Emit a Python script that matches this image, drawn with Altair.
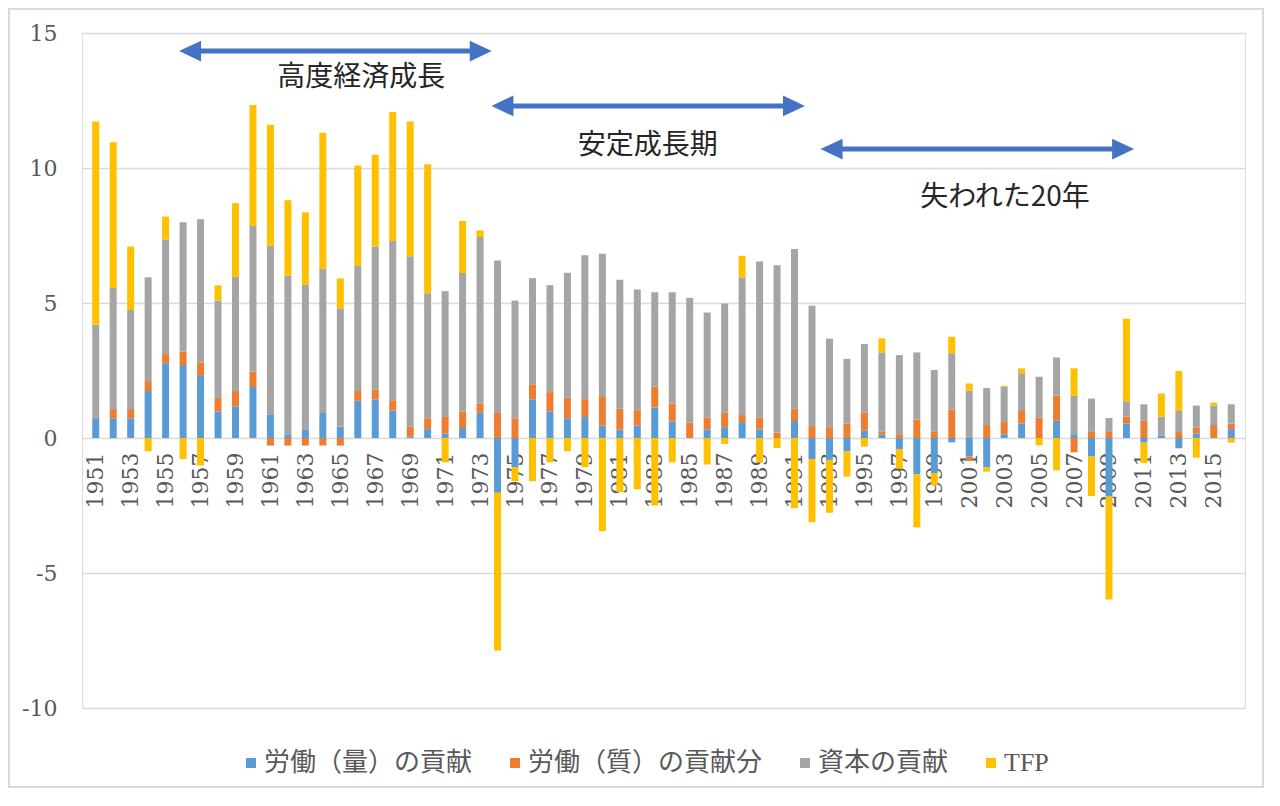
import altair as alt
import pandas as pd

years = list(range(1951, 2017))

labor_qty = [0.73, 0.73, 0.73, 1.74, 2.77, 2.70, 2.30, 0.98, 1.17, 1.89,
             0.88, 0.11, 0.31, 0.93, 0.42, 1.38, 1.43, 1.02, 0.06, 0.33,
             0.16, 0.37, 0.93, -2.03, -1.08, 1.43, 0.98, 0.73, 0.78, 0.46,
             0.31, 0.46, 1.13, 0.61, 0.00, 0.32, 0.40, 0.59, 0.32, 0.00,
             0.63, -0.78, -0.81, -0.48, 0.27, 0.12, -0.42, -1.35, -1.30, -0.16,
             -0.69, -1.09, 0.14, 0.54, 0.00, 0.64, 0.14, -0.69, -2.17, 0.54,
             -0.17, 0.10, -0.38, 0.17, 0.00, 0.33]

labor_qual = [0.00, 0.34, 0.34, 0.37, 0.34, 0.50, 0.50, 0.50, 0.57, 0.57,
              -0.28, -0.28, -0.28, -0.28, -0.28, 0.36, 0.37, 0.38, 0.36, 0.40,
              0.62, 0.61, 0.35, 0.93, 0.73, 0.56, 0.72, 0.76, 0.66, 1.09,
              0.77, 0.57, 0.77, 0.67, 0.57, 0.43, 0.55, 0.26, 0.43, 0.19,
              0.47, 0.44, 0.40, 0.54, 0.68, 0.11, 0.14, 0.68, 0.23, 1.06,
              -0.15, 0.48, 0.45, 0.46, 0.75, 0.93, -0.53, 0.25, 0.25, 0.25,
              0.64, 0.00, 0.22, 0.21, 0.48, 0.20]

capital = [3.46, 4.49, 3.67, 3.84, 4.24, 4.79, 5.30, 3.61, 4.22, 5.39,
           6.24, 5.90, 5.36, 5.34, 4.38, 4.63, 5.29, 5.90, 6.31, 4.63,
           4.66, 5.13, 6.16, 5.64, 4.36, 3.93, 3.96, 4.63, 5.33, 5.27,
           4.78, 4.47, 3.50, 4.12, 4.62, 3.90, 4.03, 5.09, 5.79, 6.21,
           5.90, 4.46, 3.28, 2.39, 2.53, 2.94, 2.93, 2.49, 2.29, 2.08,
           1.75, 1.37, 1.31, 1.40, 1.52, 1.41, 1.42, 1.21, 0.49, 0.57,
           0.61, 0.69, 0.78, 0.82, 0.72, 0.72]

tfp = [7.53, 5.39, 2.35, -0.49, 0.85, -0.78, -1.02, 0.56, 2.74, 4.48,
       4.48, 2.80, 2.69, 5.04, 1.11, 3.72, 3.40, 4.77, 4.99, 4.78,
       -0.90, 1.93, 0.25, -5.84, -0.52, -1.60, -0.90, -0.49, -1.08, -3.45,
       -2.00, -1.90, -2.50, -0.90, 0.00, -0.98, -0.22, 0.81, -0.91, -0.37,
       -2.60, -2.34, -1.96, -0.95, -0.32, 0.52, -0.72, -1.96, -0.46, 0.61,
       0.27, -0.16, 0.04, 0.18, -0.27, -1.20, 1.02, -1.46, -3.81, 3.06,
       -0.76, 0.86, 1.48, -0.73, 0.11, -0.17]

series_names = ["労働（量）の貢献", "労働（質）の貢献分", "資本の貢献", "TFP"]
series_colors = ["#5B9BD5", "#ED7D31", "#A5A5A5", "#FFC000"]

tick_years = list(range(1951, 2016, 2))
y_ticks = [-10, -5, 0, 5, 10, 15]

# annotations (periods)
ann_labels = ["高度経済成長", "安定成長期", "失われた20年"]
ann_x = [1966.2, 1982.6, 2003.05]
ann_y = [13.33, 10.81, 8.89]
arrow_x0 = [1955.78, 1973.66, 1992.50]
arrow_x1 = [1973.66, 1991.59, 2010.43]
arrow_y = [14.33, 12.30, 10.70]

rows = []
for i, yr in enumerate(years):
    for k, vals in enumerate([labor_qty, labor_qual, capital, tfp]):
        rows.append({"year": yr, "series": series_names[k], "ord": k, "value": vals[i]})
df = pd.DataFrame(rows)

ann_df = pd.DataFrame({"label": ann_labels, "x": ann_x, "y": ann_y})
HEAD = 0.62
arr_df = pd.DataFrame({
    "x0": arrow_x0, "x1": arrow_x1, "y": arrow_y,
    "hx0": [v + HEAD for v in arrow_x0],
    "hx1": [v - HEAD for v in arrow_x1],
})

W, H = 1163, 675
SERIF = "DejaVu Serif"
CJK = "Noto Sans CJK JP"
LEG_FONT = "Liberation Serif, Noto Sans CJK JP"
x_scale = alt.Scale(domain=[1950.5, 2016.5], nice=False, zero=False)
y_scale = alt.Scale(domain=[-10, 15], nice=False, zero=False)

x_axis = alt.Axis(values=tick_years, labelExpr="'' + datum.value", labelAngle=270,
                  offset=-270, labelPadding=14, ticks=False, domain=False, grid=False,
                  labelFont=SERIF, labelFontSize=22,
                  labelColor="#595959", title=None, labelOverlap=False)
y_axis = alt.Axis(values=y_ticks, labelExpr="'' + datum.value", ticks=False,
                  domain=False, grid=True,
                  gridColor="#D9D9D9", gridWidth=1.5, labelPadding=25,
                  labelFont=SERIF, labelFontSize=22,
                  labelColor="#595959", title=None)

bars = alt.Chart(df).mark_bar(size=7).encode(
    x=alt.X("year:Q", scale=x_scale, axis=x_axis),
    y=alt.Y("value:Q", scale=y_scale, axis=y_axis, stack="zero"),
    color=alt.Color("series:N",
                    scale=alt.Scale(domain=series_names, range=series_colors),
                    legend=alt.Legend(orient="none", legendX=156, legendY=717,
                                      direction="horizontal", columns=4,
                                      symbolType="square", symbolSize=100,
                                      symbolStrokeWidth=0,
                                      labelFont=LEG_FONT, labelLimit=600,
                                      labelFontSize=26, labelColor="#595959",
                                      columnPadding=29, labelOffset=0,
                                      padding=0, title=None)),
    order=alt.Order("ord:Q"),
)

shafts = alt.Chart(arr_df).mark_rule(color="#4472C4", strokeWidth=5).encode(
    x=alt.X("hx0:Q", scale=x_scale, axis=x_axis),
    x2="hx1:Q",
    y=alt.Y("y:Q", scale=y_scale, axis=y_axis),
)
heads_left = alt.Chart(arr_df).mark_point(
    shape="M1,-0.95L-1,0L1,0.95Z", size=484, filled=True, opacity=1,
    color="#4472C4", strokeWidth=0).encode(
    x=alt.X("hx0:Q", scale=x_scale, axis=x_axis),
    y=alt.Y("y:Q", scale=y_scale, axis=y_axis),
)
heads_right = alt.Chart(arr_df).mark_point(
    shape="M-1,-0.95L1,0L-1,0.95Z", size=484, filled=True, opacity=1,
    color="#4472C4", strokeWidth=0).encode(
    x=alt.X("hx1:Q", scale=x_scale, axis=x_axis),
    y=alt.Y("y:Q", scale=y_scale, axis=y_axis),
)
texts = alt.Chart(ann_df).mark_text(
    font=CJK, fontSize=28, color="#262626",
    align="center", baseline="middle").encode(
    x=alt.X("x:Q", scale=x_scale, axis=x_axis),
    y=alt.Y("y:Q", scale=y_scale, axis=y_axis),
    text="label:N",
)
frame = alt.Chart(pd.DataFrame({"f": [0]})).mark_rect(
    fill="transparent", stroke="#D9D9D9", strokeWidth=2).encode(
    x=alt.value(-73), x2=alt.value(W + 18), y=alt.value(-24), y2=alt.value(H + 79),
)

chart = alt.layer(bars, shafts, heads_left, heads_right, texts, frame).properties(
    width=W, height=H,
    autosize=alt.AutoSizeParams(type="none"),
    padding={"left": 74, "top": 25, "right": 19, "bottom": 80},
).configure_view(stroke=None).configure_axis(
    labelFont=SERIF, labelColor="#595959"
).configure(background="white")

chart.save("out.html", embed_options={"renderer": "svg", "actions": False})
